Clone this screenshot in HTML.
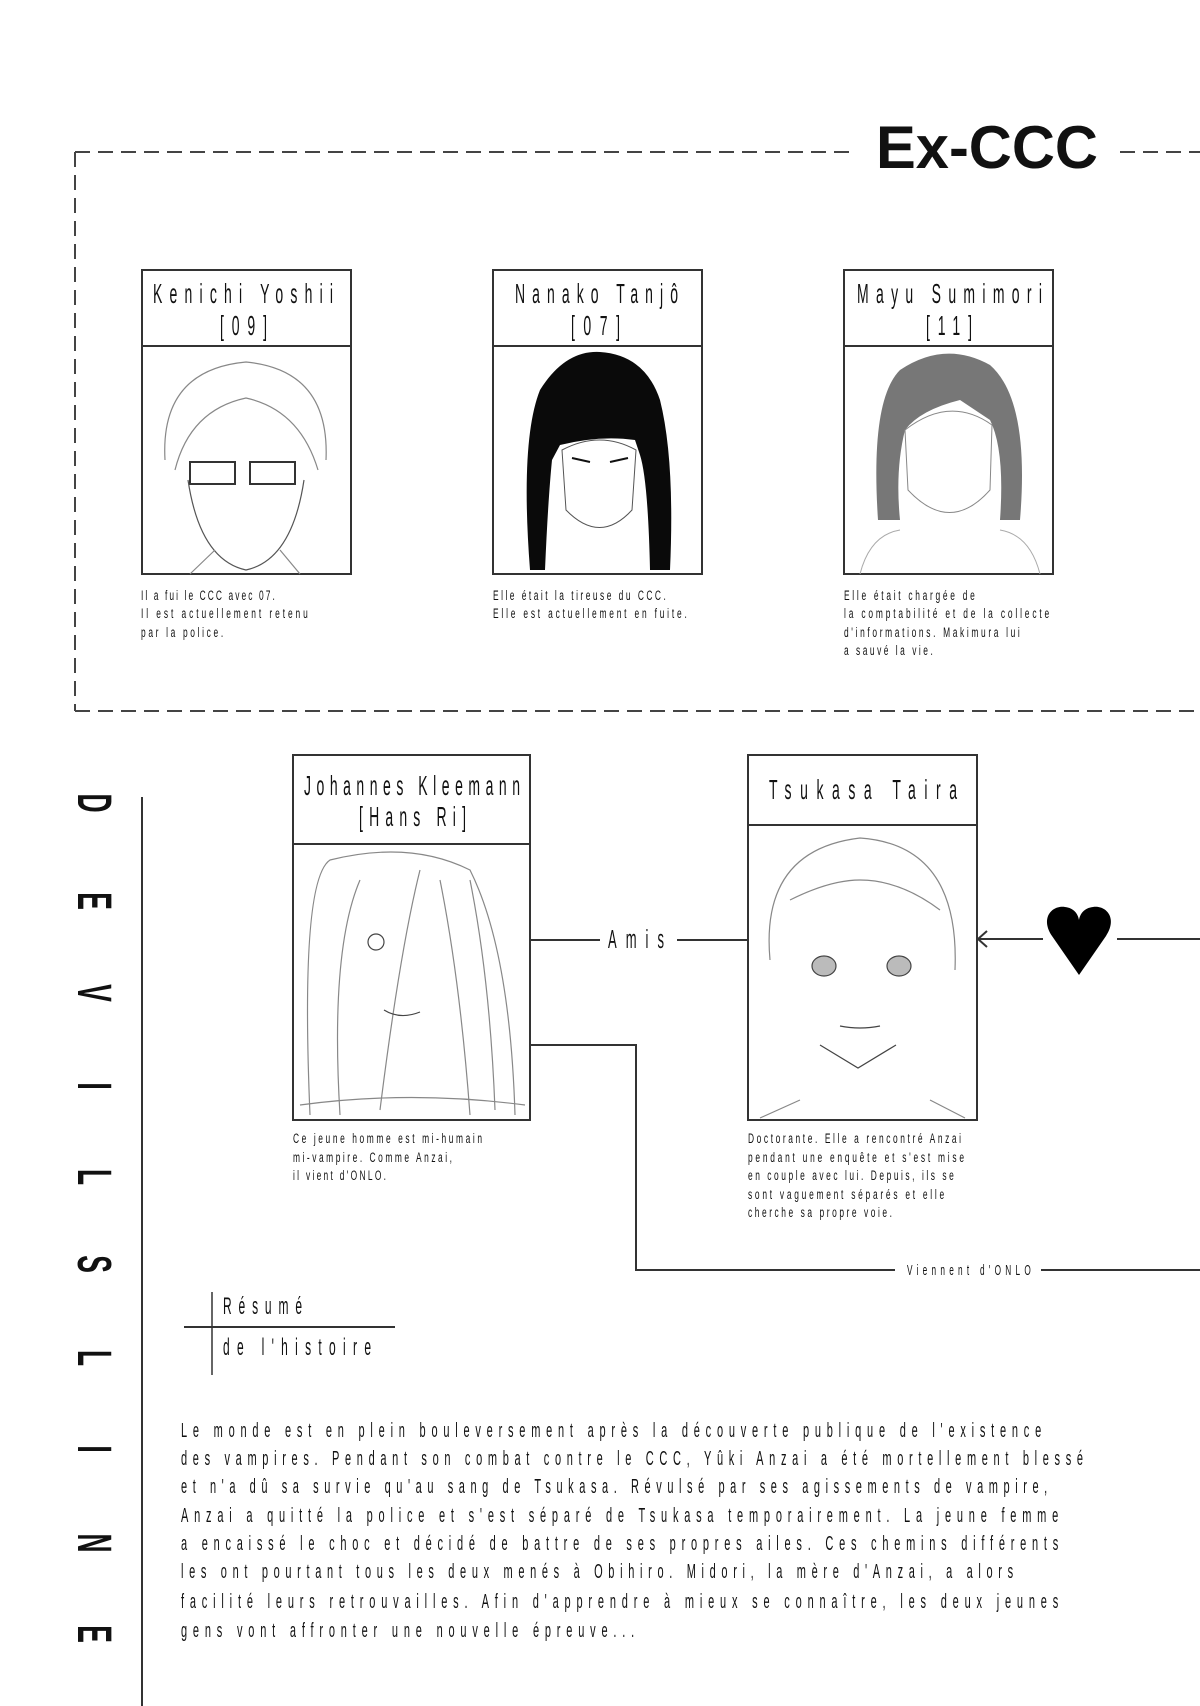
<!DOCTYPE html>
<html><head><meta charset="utf-8"><style>
html,body{margin:0;padding:0;background:#fff;}
svg{display:block;}
text{font-family:"Liberation Sans",sans-serif;fill:#111;}
.n{font-size:28px;}
.d{font-size:14px;}
.p{font-size:20px;}
</style></head><body>
<svg width="1200" height="1706" viewBox="0 0 1200 1706" xmlns="http://www.w3.org/2000/svg">
<g stroke="#444" stroke-width="2" fill="none" stroke-dasharray="15 8">
<line x1="75" y1="152" x2="856" y2="152"/>
<line x1="1120" y1="152" x2="1200" y2="152"/>
<line x1="75" y1="152" x2="75" y2="711"/>
<line x1="75" y1="711" x2="1200" y2="711"/>
</g>
<text x="876" y="168" textLength="222" lengthAdjust="spacingAndGlyphs" style="font-family:'Liberation Sans',sans-serif;font-weight:bold;font-size:60px;">Ex-CCC</text>

<g fill="none" stroke="#333" stroke-width="2">
<rect x="142" y="270" width="209" height="304"/><line x1="142" y1="346" x2="351" y2="346"/>
<rect x="493" y="270" width="209" height="304"/><line x1="493" y1="346" x2="702" y2="346"/>
<rect x="844" y="270" width="209" height="304"/><line x1="844" y1="346" x2="1053" y2="346"/>
<rect x="293" y="755" width="237" height="365"/><line x1="293" y1="844" x2="530" y2="844"/>
<rect x="748" y="755" width="229" height="365"/><line x1="748" y1="825" x2="977" y2="825"/>
</g>

<!-- condensed text: scale 0.5 horizontally, textLength = width/0.5 -->
<g transform="translate(153,303) scale(0.5,1)"><text class="n" textLength="360" lengthAdjust="spacing">Kenichi Yoshii</text></g>
<g transform="translate(220,335) scale(0.5,1)"><text class="n" textLength="94" lengthAdjust="spacing">[09]</text></g>
<g transform="translate(515,303) scale(0.5,1)"><text class="n" textLength="326" lengthAdjust="spacing">Nanako Tanjô</text></g>
<g transform="translate(571,335) scale(0.5,1)"><text class="n" textLength="98" lengthAdjust="spacing">[07]</text></g>
<g transform="translate(857,303) scale(0.5,1)"><text class="n" textLength="370" lengthAdjust="spacing">Mayu Sumimori</text></g>
<g transform="translate(926,335) scale(0.5,1)"><text class="n" textLength="92" lengthAdjust="spacing">[11]</text></g>
<g transform="translate(304,795) scale(0.5,1)"><text class="n" textLength="432" lengthAdjust="spacing">Johannes Kleemann</text></g>
<g transform="translate(359,826) scale(0.5,1)"><text class="n" textLength="214" lengthAdjust="spacing">[Hans Ri]</text></g>
<g transform="translate(769,799) scale(0.5,1)"><text class="n" textLength="376" lengthAdjust="spacing">Tsukasa Taira</text></g>

<!-- portraits -->
<g fill="none" stroke="#888" stroke-width="1.2">
<path d="M165 460 Q160 370 246 362 Q330 370 326 460"/>
<path d="M175 470 Q190 410 246 398 Q300 410 318 470"/>
<rect x="190" y="462" width="45" height="22" stroke="#333" stroke-width="2"/><rect x="250" y="462" width="45" height="22" stroke="#333" stroke-width="2"/>
<path d="M188 480 Q200 560 246 570 Q292 560 304 480" stroke="#555"/>
<path d="M190 574 L215 550 M300 574 L280 550"/>
<path d="M770 960 Q760 850 860 838 Q960 845 955 970"/>
<path d="M790 900 Q830 880 860 880 Q900 880 940 910"/>
<ellipse cx="824" cy="966" rx="12" ry="10" fill="#bbb" stroke="#444"/>
<ellipse cx="899" cy="966" rx="12" ry="10" fill="#bbb" stroke="#444"/>
<path d="M840 1026 Q860 1030 880 1026" stroke="#444"/>
<path d="M820 1045 L858 1068 L896 1045" stroke="#444"/>
<path d="M760 1118 L800 1100 M965 1118 L930 1100"/>
<path d="M310 1115 Q300 880 330 860 Q410 840 470 870 Q510 950 515 1115"/>
<path d="M340 1115 Q330 950 360 880 M380 1110 Q400 950 420 870 M470 1115 Q460 980 440 880 M495 1110 Q490 980 470 880"/>
<circle cx="376" cy="942" r="8" stroke="#444"/>
<path d="M384 1010 Q400 1020 420 1012" stroke="#444"/>
<path d="M300 1105 Q410 1090 525 1105"/>
</g>
<path d="M530 570 Q520 440 540 390 Q565 350 600 352 Q645 355 660 400 Q675 460 670 570 L650 570 Q648 480 640 455 L635 440 Q600 435 560 445 L552 460 Q548 500 545 570 Z" fill="#0a0a0a"/>
<path d="M562 450 Q600 430 636 450 L632 510 Q600 545 566 510 Z" fill="#fff" stroke="#555"/>
<path d="M572 458 L590 462 M610 462 L628 458" stroke="#111" stroke-width="2"/>
<path d="M878 520 Q870 400 900 370 Q945 340 990 365 Q1030 400 1020 520 L1000 520 Q1005 450 990 420 L960 400 Q920 410 905 430 Q895 470 900 520 Z" fill="#777"/>
<path d="M905 430 Q950 395 992 425 L990 490 Q950 535 908 490 Z" fill="#fff" stroke="#888"/>
<path d="M860 574 Q870 535 900 530 M1040 574 Q1030 535 1000 530" fill="none" stroke="#aaa"/>

<!-- descriptions (scale 0.6) -->
<g transform="translate(141,600) scale(0.6,1)"><text class="d" textLength="223" lengthAdjust="spacing">Il a fui le CCC avec 07.</text></g>
<g transform="translate(141,618) scale(0.6,1)"><text class="d" textLength="278" lengthAdjust="spacing">Il est actuellement retenu</text></g>
<g transform="translate(141,637) scale(0.6,1)"><text class="d" textLength="137" lengthAdjust="spacing">par la police.</text></g>
<g transform="translate(493,600) scale(0.6,1)"><text class="d" textLength="288" lengthAdjust="spacing">Elle était la tireuse du CCC.</text></g>
<g transform="translate(493,618) scale(0.6,1)"><text class="d" textLength="323" lengthAdjust="spacing">Elle est actuellement en fuite.</text></g>
<g transform="translate(844,600) scale(0.6,1)"><text class="d" textLength="218" lengthAdjust="spacing">Elle était chargée de</text></g>
<g transform="translate(844,618) scale(0.6,1)"><text class="d" textLength="342" lengthAdjust="spacing">la comptabilité et de la collecte</text></g>
<g transform="translate(844,637) scale(0.6,1)"><text class="d" textLength="293" lengthAdjust="spacing">d'informations. Makimura lui</text></g>
<g transform="translate(844,655) scale(0.6,1)"><text class="d" textLength="148" lengthAdjust="spacing">a sauvé la vie.</text></g>
<g transform="translate(293,1143) scale(0.6,1)"><text class="d" textLength="315" lengthAdjust="spacing">Ce jeune homme est mi-humain</text></g>
<g transform="translate(293,1162) scale(0.6,1)"><text class="d" textLength="265" lengthAdjust="spacing">mi-vampire. Comme Anzai,</text></g>
<g transform="translate(293,1180) scale(0.6,1)"><text class="d" textLength="155" lengthAdjust="spacing">il vient d'ONLO.</text></g>
<g transform="translate(748,1143) scale(0.6,1)"><text class="d" textLength="355" lengthAdjust="spacing">Doctorante. Elle a rencontré Anzai</text></g>
<g transform="translate(748,1162) scale(0.6,1)"><text class="d" textLength="360" lengthAdjust="spacing">pendant une enquête et s'est mise</text></g>
<g transform="translate(748,1180) scale(0.6,1)"><text class="d" textLength="343" lengthAdjust="spacing">en couple avec lui. Depuis, ils se</text></g>
<g transform="translate(748,1199) scale(0.6,1)"><text class="d" textLength="327" lengthAdjust="spacing">sont vaguement séparés et elle</text></g>
<g transform="translate(748,1217) scale(0.6,1)"><text class="d" textLength="240" lengthAdjust="spacing">cherche sa propre voie.</text></g>

<g stroke="#333" stroke-width="2" fill="none">
<line x1="530" y1="940" x2="600" y2="940"/>
<line x1="677" y1="940" x2="748" y2="940"/>
<line x1="977" y1="939" x2="1043" y2="939"/>
<path d="M987 931 L978 939 L987 947"/>
<line x1="1117" y1="939" x2="1200" y2="939"/>
<path d="M530 1045 H636 V1270 H895"/>
<line x1="1041" y1="1270" x2="1200" y2="1270"/>
<line x1="142" y1="797" x2="142" y2="1706"/>
<line x1="212" y1="1292" x2="212" y2="1375" stroke-width="1.5"/>
<line x1="184" y1="1327" x2="395" y2="1327"/>
</g>
<g transform="translate(608,948) scale(0.5,1)"><text class="n" textLength="112" lengthAdjust="spacing" style="font-size:26px">Amis</text></g>
<g transform="translate(907,1275) scale(0.55,1)"><text class="d" textLength="225" lengthAdjust="spacing" style="font-size:15px">Viennent d'ONLO</text></g>
<path d="M1079 975 L1052 936 C1040 918 1052 905 1065 907 C1074 908 1078 914 1079 920 C1080 914 1084 908 1093 907 C1106 905 1118 918 1106 936 Z" fill="#000"/>

<g font-family="Liberation Sans, sans-serif" font-weight="bold" font-size="48">
<text transform="translate(78,803) rotate(90) scale(0.55,1)" text-anchor="middle">D</text>
<text transform="translate(78,901) rotate(90) scale(0.55,1)" text-anchor="middle">E</text>
<text transform="translate(78,993) rotate(90) scale(0.55,1)" text-anchor="middle">V</text>
<text transform="translate(78,1086) rotate(90) scale(0.55,1)" text-anchor="middle">I</text>
<text transform="translate(78,1177) rotate(90) scale(0.55,1)" text-anchor="middle">L</text>
<text transform="translate(78,1264) rotate(90) scale(0.55,1)" text-anchor="middle">S</text>
<text transform="translate(78,1358) rotate(90) scale(0.55,1)" text-anchor="middle">L</text>
<text transform="translate(78,1449) rotate(90) scale(0.55,1)" text-anchor="middle">I</text>
<text transform="translate(78,1543) rotate(90) scale(0.55,1)" text-anchor="middle">N</text>
<text transform="translate(78,1634) rotate(90) scale(0.55,1)" text-anchor="middle">E</text>
</g>

<g transform="translate(223,1314) scale(0.5,1)"><text class="n" textLength="158" lengthAdjust="spacing" style="font-size:24px">Résumé</text></g>
<g transform="translate(223,1355) scale(0.5,1)"><text class="n" textLength="296" lengthAdjust="spacing" style="font-size:24px">de l'histoire</text></g>

<g transform="translate(181,1437) scale(0.55,1)"><text class="p" textLength="1564" lengthAdjust="spacing">Le monde est en plein bouleversement après la découverte publique de l'existence</text></g>
<g transform="translate(181,1465) scale(0.55,1)"><text class="p" textLength="1640" lengthAdjust="spacing">des vampires. Pendant son combat contre le CCC, Yûki Anzai a été mortellement blessé</text></g>
<g transform="translate(181,1493) scale(0.55,1)"><text class="p" textLength="1575" lengthAdjust="spacing">et n'a dû sa survie qu'au sang de Tsukasa. Révulsé par ses agissements de vampire,</text></g>
<g transform="translate(181,1522) scale(0.55,1)"><text class="p" textLength="1595" lengthAdjust="spacing">Anzai a quitté la police et s'est séparé de Tsukasa temporairement. La jeune femme</text></g>
<g transform="translate(181,1550) scale(0.55,1)"><text class="p" textLength="1595" lengthAdjust="spacing">a encaissé le choc et décidé de battre de ses propres ailes. Ces chemins différents</text></g>
<g transform="translate(181,1578) scale(0.55,1)"><text class="p" textLength="1513" lengthAdjust="spacing">les ont pourtant tous les deux menés à Obihiro. Midori, la mère d'Anzai, a alors</text></g>
<g transform="translate(181,1608) scale(0.55,1)"><text class="p" textLength="1595" lengthAdjust="spacing">facilité leurs retrouvailles. Afin d'apprendre à mieux se connaître, les deux jeunes</text></g>
<g transform="translate(181,1637) scale(0.55,1)"><text class="p" textLength="824" lengthAdjust="spacing">gens vont affronter une nouvelle épreuve...</text></g>
</svg>
</body></html>
